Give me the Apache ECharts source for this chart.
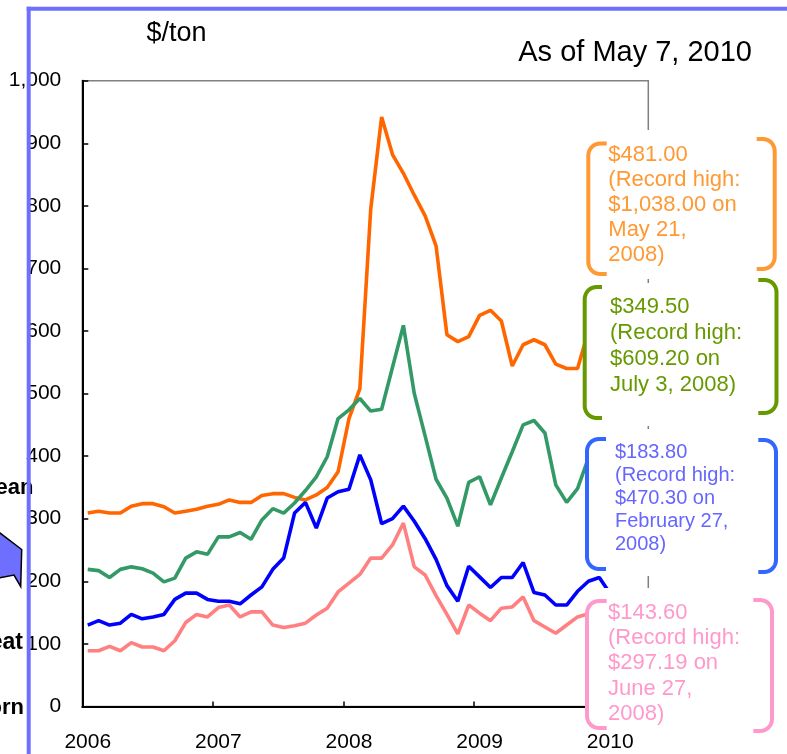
<!DOCTYPE html>
<html>
<head>
<meta charset="utf-8">
<script src="https://cdn.jsdelivr.net/npm/echarts@6.0.0/dist/echarts.min.js"></script>
<style>
  html, body { margin: 0; padding: 0; background: #fff; }
  #chart { width: 787px; height: 754px; }
</style>
</head>
<body>
<div id="chart"></div>
<script>
// monthly averages, Jan 2006 - Apr 2010 ($/ton)
var years = [2006, 2007, 2008, 2009, 2010];
var months = [];
years.forEach(function (y) {
  for (var m = 1; m <= 12; m++) {
    if (y === 2010 && m > 4) break;
    months.push(y + '/' + m);
  }
});

var rice = [
  309, 312, 309, 309, 320, 324, 324, 319, 309, 312, 315, 320,
  323, 330, 326, 326, 337, 340, 340, 334, 330, 338, 350, 375,
  460, 508, 795, 942, 882, 852, 817, 784, 736, 594, 583, 591,
  625, 633, 616, 544, 578, 586, 578, 547, 540, 540, 600, 610,
  600, 590, 585, 580
];
var soybean = [
  219, 217, 206, 219, 223, 220, 213, 199, 205, 237, 247, 243,
  271, 271, 278, 267, 298, 316, 309, 325, 345, 367, 399, 460,
  474, 492, 472, 475, 542, 609, 500, 432, 363, 333, 288, 358,
  367, 322, 365, 407, 450, 457, 437, 354, 326, 348, 397, 410,
  400, 390, 385, 380
];
var wheat = [
  130, 137, 130, 133, 147, 140, 143, 147, 171, 181, 181, 171,
  168, 168, 164, 178, 191, 219, 237, 309, 326, 285, 333, 343,
  347, 402, 362, 292, 300, 320, 296, 268, 235, 193, 168, 224,
  207, 190, 206, 206, 230, 182, 178, 162, 162, 184, 200, 206,
  180, 165, 160, 158
];
var corn = [
  89, 89, 96, 89, 102, 95, 95, 89, 105, 134, 147, 143,
  158, 162, 143, 151, 151, 130, 126, 129, 133, 146, 157, 183,
  197, 211, 237, 237, 258, 293, 223, 210, 177, 147, 116, 162,
  149, 137, 157, 159, 175, 137, 127, 117, 130, 143, 148, 146,
  142, 144, 145, 144
];

var callouts = [
  { lines: ['$481.00', '(Record high:', '$1,038.00 on', 'May 21,', '2008)'], color: '#FF9933', text: '#FF9933' },
  { lines: ['$349.50', '(Record high:', '$609.20 on', 'July 3, 2008)'], color: '#669900', text: '#669900' },
  { lines: ['$183.80', '(Record high:', '$470.30 on', 'February 27,', '2008)'], color: '#3366FF', text: '#6666FF' },
  { lines: ['$143.60', '(Record high:', '$297.19 on', 'June 27,', '2008)'], color: '#FF99CC', text: '#FF99CC' }
];

var SANS = '"Liberation Sans", Arial, sans-serif';

function bracket(vx, top, bottom, armX, color) {
  var dir = armX > vx ? 1 : -1;
  var r = 12;
  var pts = [[armX, top]];
  for (var k = 0; k <= 8; k++) {
    var a = Math.PI / 2 * k / 8;
    pts.push([vx + dir * r - dir * r * Math.sin(a), top + r - r * Math.cos(a)]);
  }
  for (var k2 = 0; k2 <= 8; k2++) {
    var b = Math.PI / 2 * k2 / 8;
    pts.push([vx + dir * r - dir * r * Math.cos(b), bottom - r + r * Math.sin(b)]);
  }
  pts.push([armX, bottom]);
  return {
    type: 'polyline', z: 11,
    shape: { points: pts },
    style: { stroke: color, lineWidth: 4, fill: 'none' }
  };
}

function label(text, x, y, opts) {
  return {
    type: 'text', x: x, y: y, z: opts.z || 12,
    style: {
      text: text,
      fill: opts.color || '#000',
      fontSize: opts.size,
      fontFamily: SANS,
      fontWeight: opts.weight || 'normal',
      lineHeight: opts.lineHeight,
      align: opts.align || 'left', textAlign: opts.align || 'left',
      verticalAlign: opts.valign || 'middle', textVerticalAlign: opts.valign || 'middle'
    }
  };
}

// box geometry: fill area, left bracket, right bracket, text block
var boxes = [
  { fill: [584, 130, 196, 149], left: [588.3, 143.5, 274, 606.7], right: [774.7, 139, 269, 756.7], tx: 608.3, ty: 142.5, lh: 25, size: 22 },
  { fill: [583, 283, 197, 143], left: [584.7, 287, 418, 602], right: [776.5, 280, 413, 758.3], tx: 610, ty: 294, lh: 26, size: 22 },
  { fill: [585, 429, 195, 147], left: [587, 439, 569, 606], right: [776, 440, 572, 758.3], tx: 615, ty: 441, lh: 23, size: 20 },
  { fill: [586, 588, 194, 144], left: [587, 601, 728, 606.7], right: [772, 600, 731, 753.3], tx: 608, ty: 600, lh: 25.3, size: 22 }
];

var graphics = [];
boxes.forEach(function (b, i) {
  var c = callouts[i];
  graphics.push({
    type: 'rect', z: 10,
    shape: { x: b.fill[0], y: b.fill[1], width: b.fill[2], height: b.fill[3] },
    style: { fill: '#fff' }
  });
  graphics.push(bracket(b.left[0], b.left[1], b.left[2], b.left[3], c.color));
  graphics.push(bracket(b.right[0], b.right[1], b.right[2], b.right[3], c.color));
  graphics.push(label(c.lines.join('\n'), b.tx, b.ty, {
    color: c.text, size: b.size, lineHeight: b.lh, valign: 'top'
  }));
});

graphics.push(label('$/ton', 146.5, 34, { size: 27 }));
graphics.push(label('As of May 7, 2010', 752, 52.5, { size: 29, align: 'right' }));

// clipped labels of the neighbouring slide area
graphics.push(label('Soybean', 33.5, 488, { size: 22, weight: 'bold', align: 'right' }));
graphics.push(label('Wheat', 23, 643, { size: 23, weight: 'bold', align: 'right' }));
graphics.push(label('Corn', 24, 708, { size: 22, weight: 'bold', align: 'right' }));
graphics.push({
  type: 'polygon', z: 20,
  shape: { points: [[-4, 530], [21.7, 549.5], [20.7, 586.5], [14, 575], [-4, 578.5]] },
  style: { fill: '#6E6EFF', stroke: '#000', lineWidth: 1.5 }
});

// slide border
graphics.push({ type: 'line', z: 30, shape: { x1: 28.7, y1: 6.7, x2: 28.7, y2: 754 }, style: { stroke: '#6E6EFF', lineWidth: 4 } });
graphics.push({ type: 'line', z: 30, shape: { x1: 26.7, y1: 8.7, x2: 787, y2: 8.7 }, style: { stroke: '#6E6EFF', lineWidth: 4 } });

function lineSeries(name, data, color) {
  return {
    name: name,
    type: 'line',
    data: data,
    symbol: 'none',
    showSymbol: false,
    lineStyle: { color: color, width: 3.6 },
    itemStyle: { color: color },
    emphasis: { disabled: true }
  };
}

var myChart = echarts.init(document.getElementById('chart'), null, { renderer: 'canvas' });

var option = {
  animation: false,
  backgroundColor: '#fff',
  grid: {
    left: 82.3,
    top: 80.7,
    right: 138.7,
    bottom: 47.6,
    show: true,
    borderColor: '#808080',
    borderWidth: 1.5,
    outerBoundsMode: 'none'
  },
  xAxis: {
    type: 'category',
    data: months,
    boundaryGap: true,
    axisLine: { lineStyle: { color: '#000', width: 2 } },
    axisTick: { show: true, inside: true, length: 5, interval: 11, lineStyle: { color: '#000', width: 1.5 } },
    axisLabel: {
      interval: 11,
      color: '#000',
      fontFamily: SANS,
      fontSize: 21,
      margin: 25,
      formatter: function (v) { return v.split('/')[0]; }
    },
    splitLine: { show: false }
  },
  yAxis: {
    type: 'value',
    min: 0,
    max: 1000,
    interval: 100,
    axisLine: { show: true, lineStyle: { color: '#000', width: 2 } },
    axisTick: { show: true, inside: true, length: 6, lineStyle: { color: '#000', width: 1.5 } },
    axisLabel: {
      color: '#000',
      fontFamily: SANS,
      fontSize: 21,
      margin: 21,
      padding: [4, 0, 0, 0],
      formatter: function (v) { return String(v).replace(/\B(?=(\d{3})+(?!\d))/g, ','); }
    },
    splitLine: { show: false }
  },
  series: [
    lineSeries('Rice', rice, '#FF6600'),
    lineSeries('Soybean', soybean, '#339966'),
    lineSeries('Wheat', wheat, '#0000FF'),
    lineSeries('Corn', corn, '#FF8080')
  ],
  graphic: { elements: graphics }
};

myChart.setOption(option);
</script>
</body>
</html>
